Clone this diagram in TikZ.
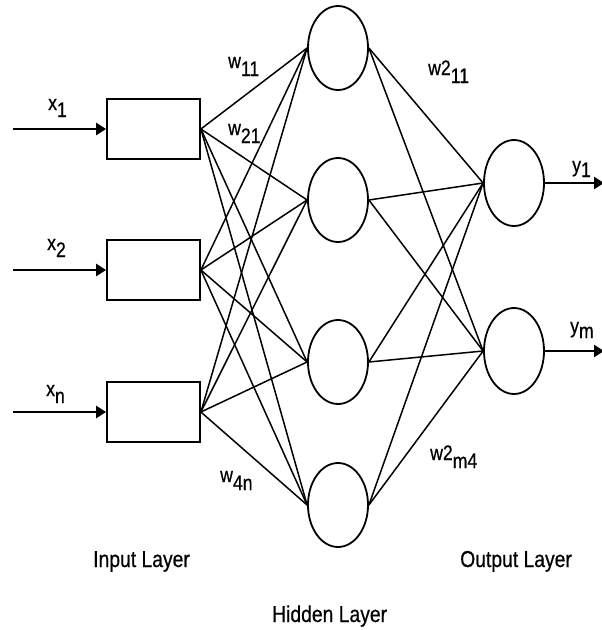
\documentclass[tikz,border=0pt]{standalone}
\usepackage{fontspec}
\setmainfont{Liberation Sans}[FakeStretch=0.84, FakeBold=0.6]
\usetikzlibrary{arrows.meta,shapes.geometric}
% letter followed by a lowered index of the same size, as in w11
\newcommand{\idx}[3][8pt]{\fontsize{21}{24}\selectfont #2\raisebox{-#1}{#3}}
\begin{document}
\begin{tikzpicture}[x=1pt,y=-1pt,
  inbox/.style={draw, line width=1.8pt, minimum width=93pt, minimum height=60pt, inner sep=0pt},
  neuron/.style={draw, ellipse, line width=1.8pt, minimum width=60pt, minimum height=84pt, inner sep=0pt},
  link/.style={line width=1.5pt},
  feed/.style={line width=2.8pt, -{Triangle[length=10pt,width=12pt]}},
  lab/.style={inner sep=0pt, anchor=base west},
  layer/.style={inner sep=0pt, anchor=base west, font=\fontsize{23}{26}\selectfont}]
\useasboundingbox (0,0) rectangle (602,630);

% input boxes
\node[inbox] (i1) at (153.5,129) {};
\node[inbox] (i2) at (153.5,270) {};
\node[inbox] (i3) at (153.5,412) {};

% hidden neurons
\node[neuron] (h1) at (338,48) {};
\node[neuron] (h2) at (338,200) {};
\node[neuron] (h3) at (338,362) {};
\node[neuron] (h4) at (338,505) {};

% output neurons
\node[neuron, minimum height=86pt] (o1) at (514,183) {};
\node[neuron, minimum height=86pt] (o2) at (514,351) {};

% input arrows
\coordinate (s1) at (13,129);
\coordinate (s2) at (13,270);
\coordinate (s3) at (13,412);
\draw[feed] (s1) -- (i1.west);
\draw[feed] (s2) -- (i2.west);
\draw[feed] (s3) -- (i3.west);

% output arrows
\coordinate (e1) at (604,183);
\coordinate (e2) at (604,351);
\draw[feed] (o1.east) -- (e1);
\draw[feed] (o2.east) -- (e2);

% input to hidden
\foreach \i in {1,2,3}
  \foreach \h in {1,2,3,4}
    \draw[link] (i\i.east) -- (h\h.west);

% hidden to output
\foreach \h in {1,2,3,4}
  \foreach \o in {1,2}
    \draw[link] (h\h.east) -- (o\o.west);

% signal labels
\node[lab] (lx1) at (48,110) {\idx[7pt]{x}{1}};
\node[lab] (lx2) at (47,250) {\idx[7pt]{x}{2}};
\node[lab] (lxn) at (46,396) {\idx[7pt]{x}{n}};
\node[lab] (ly1) at (572,172) {\idx[5pt]{y}{1}};
\node[lab] (lym) at (570,333) {\idx[5pt]{y}{m}};

% weight labels
\node[lab] (w11) at (228,68) {\idx{w}{11}};
\node[lab] (w21) at (228,135) {\idx{w}{21}};
\node[lab] (w4n) at (220,482) {\idx{w}{4n}};
\node[lab] (v11) at (428,75) {\idx{w2}{11}};
\node[lab] (vm4) at (430,460) {\idx{w2}{m4}};

% layer captions
\node[layer] (cin) at (93,567) {Input Layer};
\node[layer] (chid) at (272,622) {Hidden Layer};
\node[layer] (cout) at (460,567) {Output Layer};
\end{tikzpicture}
\end{document}
